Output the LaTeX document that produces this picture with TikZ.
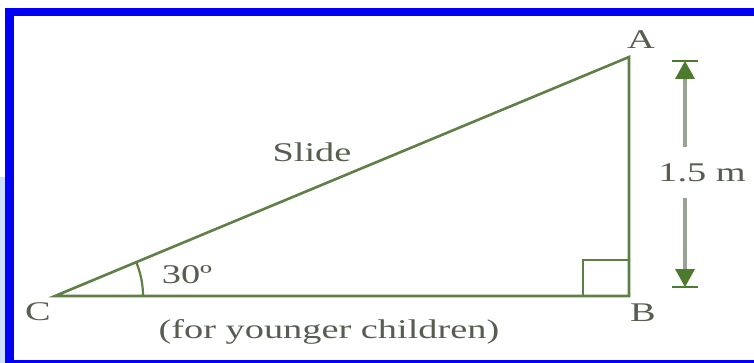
\documentclass[tikz,border=0pt]{standalone}
\usepackage{fontspec}
\setmainfont{Liberation Serif}[FakeStretch=1.42]
\definecolor{frameblue}{HTML}{0000F5}
\definecolor{sideblue}{HTML}{CCDDFF}
\definecolor{linegreen}{HTML}{5E7F46}
\definecolor{headgreen}{HTML}{4C7A2E}
\definecolor{dimgray}{HTML}{9AA294}
\definecolor{txt}{HTML}{555E50}
\tikzset{
  edge/.style={draw=linegreen, line width=2.6pt},
  lbl/.style={inner sep=0pt, text=txt, font=\fontsize{27}{30}\selectfont},
  dimline/.style={draw=dimgray, line width=3.6pt},
  dimbar/.style={draw=headgreen, line width=2.2pt},
  dimhead/.style={fill=headgreen}
}
\begin{document}
\begin{tikzpicture}[x=1pt,y=-1pt]
\useasboundingbox (0,0) rectangle (754,363);
\fill[white] (0,0) rectangle (754,363);
\fill[sideblue] (0,177) rectangle (5,363);
\fill[frameblue] (5,8) rectangle (754,363);
\fill[white] (14,16) rectangle (754,360);
% vertices
\coordinate (C) at (55,296);
\coordinate (B) at (629,296);
\coordinate (A) at (629,57);
\draw[edge, line join=miter] (C) -- (B) -- (A) -- cycle;
% right angle mark
\draw[linegreen, line width=2.4pt] (B) ++(-46,0) -- ++(0,-36) -- ++(46,0);
% angle arc
\draw[linegreen, line width=2.2pt] (C) ++(88,0) arc[start angle=0, end angle=-22.6, radius=88];
% labels
\node[lbl] (lA) at (641,40) {A};
\node[lbl] (lB) at (643,313) {B};
\node[lbl] (lC) at (38,312) {C};
\node[lbl] (lslide) at (312,152) {Slide};
\node[lbl] (lang) at (187,275) {30º};
\node[lbl] (lbase) at (329,332) {(for younger children)};
\node[lbl] (ldim) at (702,173) {1.5 m};
% dimension arrow
\coordinate (dt) at (685,61);
\coordinate (db) at (685,287);
\coordinate (dtb) at (685,79);
\coordinate (dbb) at (685,269);
\coordinate (dte) at (685,147);
\coordinate (dbe) at (685,198);
\draw[dimline] (dtb) -- (dte);
\draw[dimline] (dbe) -- (dbb);
\draw[dimbar] (dt) ++(-13,0) -- ++(26,0);
\draw[dimbar] (db) ++(-13,0) -- ++(26,0);
\fill[dimhead] (dt) -- ++(-10,18) -- ++(20,0) -- cycle;
\fill[dimhead] (db) -- ++(-10,-18) -- ++(20,0) -- cycle;
\end{tikzpicture}
\end{document}
